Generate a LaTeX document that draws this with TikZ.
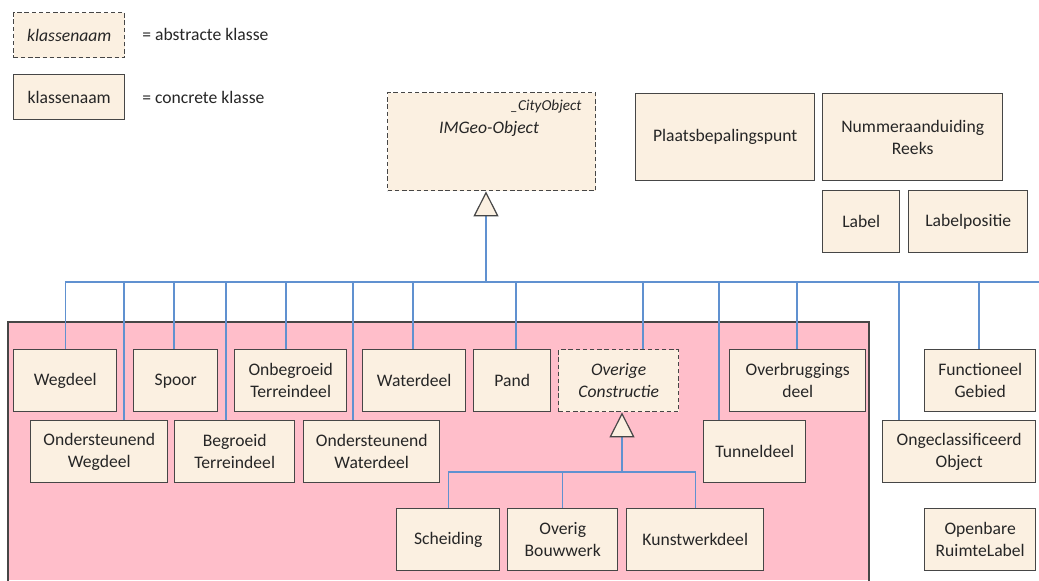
\documentclass[tikz,border=0pt]{standalone}
\usepackage{fontspec}
\setmainfont{Carlito}
\usetikzlibrary{arrows.meta}
\definecolor{creme}{RGB}{251,240,225}
\definecolor{roze}{RGB}{255,190,202}
\definecolor{lijnblauw}{RGB}{96,145,208}
\definecolor{rand}{RGB}{70,70,70}

\tikzset{
klasse/.style={draw=rand, fill=creme, line width=0.7pt, anchor=north west, inner sep=0pt, align=center, text=black!85, font=\fontsize{8.8}{11}\selectfont},
abstract/.style={klasse, dash pattern=on 2.2pt off 1.4pt, font=\fontsize{8.8}{11}\selectfont\itshape},
maat/.style 2 args={minimum width=#1*0.5pt, minimum height=#2*0.5pt},
lijn/.style={draw=lijnblauw, line width=0.6pt},
gen/.style={lijn, -{Triangle[length=12.5pt, width=12.5pt, fill=creme, color=rand]}},
tekst/.style={anchor=west, inner sep=0pt, text=black!85, font=\fontsize{8.8}{11}\selectfont}
}

\begin{document}
\begin{tikzpicture}[x=0.5pt, y=-0.5pt]
\useasboundingbox (0,0) rectangle (1039,580);
\fill[roze] (8,322) rectangle (869,580);
\draw[rand, line width=0.7pt] (8,582) |- (869,322) -- (869,582);

\node[abstract, maat={111}{45}] (LegendaAbstract) at (13,12) {klassenaam};
\node[klasse, maat={111}{45}] (LegendaConcreet) at (13,74) {klassenaam};
\node[tekst] (AbstractTekst) at (142,34) {= abstracte klasse};
\node[tekst] (ConcreetTekst) at (142,97) {= concrete klasse};

\node[abstract, maat={208}{98}] (IMGeoObject) at (387,92) {};
\node[tekst, anchor=east, font=\fontsize{7.6}{9}\selectfont\itshape] (CityObject) at (582,107) {\_CityObject};
\node[tekst, anchor=center, font=\fontsize{8.8}{11}\selectfont\itshape] (IMGeoNaam) at (489,129) {IMGeo-Object};

\node[klasse, maat={179}{87}] (Plaatsbepalingspunt) at (635,93) {Plaatsbepalingspunt};
\node[klasse, maat={180}{87}] (NummeraanduidingReeks) at (822,93) {Nummeraanduiding\\Reeks};
\node[klasse, maat={77}{62}] (Label) at (822,190) {Label};
\node[klasse, maat={119}{62}] (Labelpositie) at (908,190) {Labelpositie};

\node[klasse, maat={103}{62}] (Wegdeel) at (13,349) {Wegdeel};
\node[klasse, maat={84}{62}] (Spoor) at (133,349) {Spoor};
\node[klasse, maat={112}{62}] (OnbegroeidTerreindeel) at (234,349) {Onbegroeid\\Terreindeel};
\node[klasse, maat={103}{62}] (Waterdeel) at (362,349) {Waterdeel};
\node[klasse, maat={77}{62}] (Pand) at (473,349) {Pand};
\node[abstract, maat={120}{62}] (OverigeConstructie) at (558,349) {Overige\\Constructie};
\node[klasse, maat={136}{62}] (Overbruggingsdeel) at (729,349) {Overbruggings\\deel};
\node[klasse, maat={111}{62}] (FunctioneelGebied) at (924,349) {Functioneel\\Gebied};

\node[klasse, maat={137}{62}] (OndersteunendWegdeel) at (30,420) {Ondersteunend\\Wegdeel};
\node[klasse, maat={120}{62}] (BegroeidTerreindeel) at (174,420) {Begroeid\\Terreindeel};
\node[klasse, maat={136}{62}] (OndersteunendWaterdeel) at (303,420) {Ondersteunend\\Waterdeel};
\node[klasse, maat={102}{62}] (Tunneldeel) at (703,420) {Tunneldeel};
\node[klasse, maat={153}{62}] (OngeclassificeerdObject) at (882,420) {Ongeclassificeerd\\Object};

\node[klasse, maat={103}{62}] (Scheiding) at (396,508) {Scheiding};
\node[klasse, maat={110}{62}] (OverigBouwwerk) at (507,508) {Overig\\Bouwwerk};
\node[klasse, maat={137}{62}] (Kunstwerkdeel) at (626,508) {Kunstwerkdeel};
\node[klasse, maat={111}{62}] (OpenbareRuimteLabel) at (924,508) {Openbare\\RuimteLabel};

\coordinate (Bus) at (486,282);
\coordinate (BusEinde) at (1039,282);
\draw[gen] (Bus) -- (Bus |- IMGeoObject.south);
\draw[lijn] (Wegdeel.north) |- (BusEinde);
\foreach \naam/\x in {OndersteunendWegdeel/124, Spoor/174, BegroeidTerreindeel/226, OnbegroeidTerreindeel/286,
  OndersteunendWaterdeel/353, Waterdeel/413, Pand/516, OverigeConstructie/643, Tunneldeel/719,
  Overbruggingsdeel/797, OngeclassificeerdObject/899, FunctioneelGebied/979}
{
  \coordinate (Tak\naam) at (\x,282);
  \draw[lijn] (Tak\naam) -- (Tak\naam |- \naam.north);
}

\coordinate (SubBus) at (622,472);
\draw[gen] (SubBus) -- (SubBus |- OverigeConstructie.south);
\draw[lijn] (Scheiding.north) |- (SubBus) -| (Kunstwerkdeel.north);
\draw[lijn] (OverigBouwwerk.north) -- (OverigBouwwerk.north |- SubBus);
\end{tikzpicture}
\end{document}
